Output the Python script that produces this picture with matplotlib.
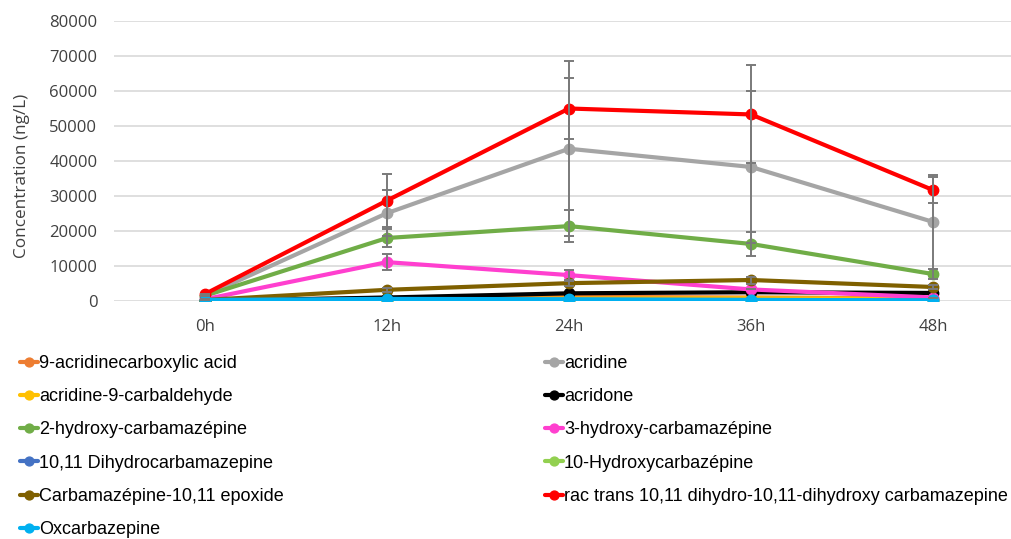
import matplotlib
matplotlib.use("Agg")
import matplotlib.pyplot as plt

# données
times = ["0h", "12h", "24h", "36h", "48h"]

names = [
    "9-acridinecarboxylic acid",
    "acridine",
    "acridine-9-carbaldehyde",
    "acridone",
    "2-hydroxy-carbamazépine",
    "3-hydroxy-carbamazépine",
    "10,11 Dihydrocarbamazepine",
    "10-Hydroxycarbazépine",
    "Carbamazépine-10,11 epoxide",
    "rac trans 10,11 dihydro-10,11-dihydroxy carbamazepine",
    "Oxcarbazepine",
]
colors = ["#ed7d31", "#a5a5a5", "#ffc000", "#000000", "#70ad47", "#ff3fcf",
          "#4472c4", "#92d050", "#7f6000", "#ff0000", "#00b0f0"]

acid_9 = [200, 900, 1200, 1000, 800]
acridine = [1500, 25100, 43500, 38300, 22600]
carbaldehyde = [100, 400, 700, 800, 600]
acridone = [0, 1000, 2200, 2500, 2300]
hydroxy_2 = [1500, 18000, 21400, 16300, 7700]
hydroxy_3 = [500, 11100, 7400, 3300, 1000]
dihydro = [100, 200, 300, 300, 200]
hydroxy_10 = [0, 50, 100, 100, 50]
epoxide = [300, 3200, 5100, 6000, 4000]
rac_trans = [2000, 28700, 55000, 53300, 31700]
oxcarb = [300, 600, 500, 300, 200]

err_acridine = [0, 6600, 25000, 21700, 13500]
err_hydroxy_2 = [0, 2600, 4500, 3400, 1500]
err_hydroxy_3 = [0, 2300, 1500, 0, 0]
err_epoxide = [0, 500, 700, 1000, 500]
err_rac = [0, 7600, 8700, 14000, 3700]

series = [acid_9, acridine, carbaldehyde, acridone, hydroxy_2, hydroxy_3,
          dihydro, hydroxy_10, epoxide, rac_trans, oxcarb]
errors = {1: err_acridine, 4: err_hydroxy_2, 5: err_hydroxy_3,
          8: err_epoxide, 9: err_rac}

plt.rcParams['font.family'] = ['Open Sans', 'DejaVu Sans']

fig = plt.figure(figsize=(10.11, 5.39), dpi=100)
ax = fig.add_axes([114 / 1011, 238 / 539, 910 / 1011, 280 / 539])

x = list(range(len(times)))
handles = []
for i, (vals, name, c) in enumerate(zip(series, names, colors)):
    h, = ax.plot(x, vals, color=c, lw=3, marker="o", ms=7.5, label=name,
                 zorder=3 + i * 0.01, solid_capstyle="round")
    handles.append(h)
    if i in errors:
        ax.errorbar(x, vals, yerr=errors[i], fmt="none", ecolor="#7a7a7a",
                    elinewidth=1.4, capsize=3.5, capthick=1.4, zorder=4)

ax.set_xlim(-0.5, 4.5)
ax.set_ylim(0, 80000)
ax.set_yticks(range(0, 80001, 10000))
ax.set_xticks(x)
ax.set_xticklabels(times)
ax.tick_params(axis="both", length=0, labelsize=12, colors="#404040")
ax.tick_params(axis="x", pad=13)
ax.tick_params(axis="y", pad=12)
ax.grid(axis="y", color="#d9d9d9", lw=1.2)
ax.set_axisbelow(True)
for s in ax.spines.values():
    s.set_visible(False)
ax.set_ylabel("Concentration (ng/L)", fontsize=12.3, color="#404040")
ax.yaxis.set_label_coords(-0.092, 0.446)

leg_kw = dict(frameon=False, handlelength=1.0, handletextpad=0.05,
              labelspacing=0.9, borderaxespad=0, borderpad=0,
              prop={"family": ["Liberation Sans", "DejaVu Sans"], "size": 13})
col1 = [handles[i] for i in (0, 2, 4, 6, 8, 10)]
col2 = [handles[i] for i in (1, 3, 5, 7, 9)]
fig.legend(handles=col1, labels=[h.get_label() for h in col1], loc="upper left",
           bbox_to_anchor=(20 / 1011, 1 - 355 / 539), markerscale=0.85, **leg_kw)
fig.legend(handles=col2, labels=[h.get_label() for h in col2], loc="upper left",
           bbox_to_anchor=(545 / 1011, 1 - 355 / 539), markerscale=0.85, **leg_kw)

fig.savefig("out.png", dpi=100)
